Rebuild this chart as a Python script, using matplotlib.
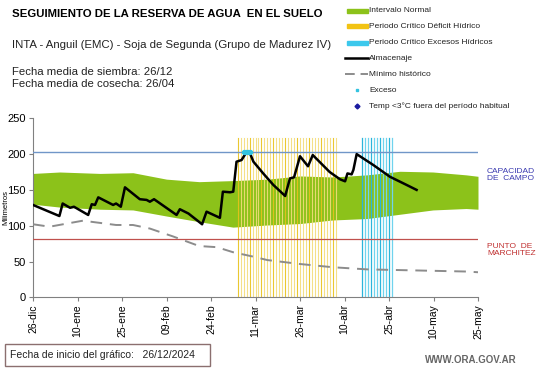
import matplotlib
matplotlib.use("Agg")
import matplotlib.pyplot as plt
from matplotlib.patches import Rectangle
from matplotlib.lines import Line2D

plt.rcParams['font.family'] = ['Liberation Sans', 'DejaVu Sans']

# ---- data (day index from 26-dic) ----
tick_days = [0, 15, 30, 45, 60, 75, 90, 105, 120, 135, 150]
tick_labels = ["26-dic", "10-ene", "25-ene", "09-feb", "24-feb", "11-mar",
               "26-mar", "10-abr", "25-abr", "10-may", "25-may"]

band_days = [0, 9, 22.6, 33.7, 45, 56, 67.4, 79, 90, 101, 112.6, 123.7, 134.8, 146, 150]
band_top = [173, 175, 173, 174, 165, 161.5, 163, 165, 169.5, 168, 171, 176, 175, 171, 169]
band_bottom = [130, 126, 123, 122, 113.5, 105.6, 98, 101, 103, 108, 110, 116, 122, 124, 123]

min_days = [0, 5.6, 16.8, 28, 33.7, 39.4, 47.2, 56, 62, 67.4, 74, 79, 90, 101, 112.6, 123.7, 134.8, 146, 150]
min_vals = [102, 98.6, 107, 101, 101, 96, 85, 71.6, 70, 63, 57, 52, 46.5, 42, 39, 38, 37, 36, 35]

alm_days = [0, 8.9, 10, 12.5, 13.8, 18.6, 19.8, 20.9, 22, 27, 28, 29.6, 31, 36, 38.3,
            39.4, 40.8, 48.4, 49.5, 52.4, 57, 58.5, 63, 64, 66.4, 67.5, 68.6, 70.3,
            72, 73, 74.3, 77.6, 81, 85, 86.6, 88, 90, 92.7, 94.3, 100, 103.5, 105.2,
            106, 107.4, 108, 109.1, 114.7, 120.3, 126, 129.3]
alm_vals = [129, 113.5, 131, 125, 126.5, 115, 130, 129, 139.6, 129, 131, 126.5, 153.6,
            137, 136, 133.5, 137, 115, 123, 117, 102, 119.6, 111, 147.5, 146.7, 147.5,
            189.4, 191.7, 203, 202.5, 189.4, 173, 157, 141.5, 166, 167.6, 197, 183, 198.7,
            175, 164.8, 162, 173, 171.7, 178, 200, 184.8, 168.4, 156.8, 150]

exceso_days = [71, 71.7, 72.4, 73]
exceso_vals = [203, 203.5, 203.5, 203]

deficit_days = list(range(69, 103))
excesos_days = list(range(111, 122))
capacidad = 202.5
marchitez = 81
critico_top = 222

W, H = 541, 368
fig = plt.figure(figsize=(W / 100, H / 100), dpi=100)
ax = fig.add_axes([33 / W, 1 - 297.3 / H, (478 - 33) / W, (297.3 - 118.3) / H])

green = '#8CC21A'
ax.fill_between(band_days, band_bottom, band_top, color=green, lw=0, zorder=1)

for i, d in enumerate(deficit_days):
    c = '#E8C21A' if i % 4 == 0 else '#F3DC7A'
    ax.plot([d, d], [0, critico_top], color=c, lw=0.8, zorder=2, alpha=0.9)
for i, d in enumerate(excesos_days):
    c = '#2BB5DA' if i % 3 == 0 else '#6FD3EE'
    ax.plot([d, d], [0, critico_top], color=c, lw=0.9, zorder=2)

ax.axhline(capacidad, color='#7096C8', lw=1.0, zorder=3)
ax.axhline(marchitez, color='#C0504D', lw=0.9, zorder=3)
ax.plot(min_days, min_vals, color='#8C8C8C', lw=1.4, ls=(0, (6, 4)), zorder=3)
ax.plot(alm_days, alm_vals, color='black', lw=1.8, zorder=4)
ax.scatter(exceso_days, exceso_vals, color='#33C3E0', s=8, zorder=5)

ax.set_xlim(0, 150)
ax.set_ylim(0, 250)
ax.set_xticks(tick_days)
ax.set_xticklabels(tick_labels, rotation=90, fontsize=7.5)
ax.set_yticks([0, 50, 100, 150, 200, 250])
ax.tick_params(axis='y', labelsize=8, length=3, color='#808080', pad=2)
ax.tick_params(axis='x', length=3, color='#808080', pad=2)
for s in ['top', 'right']:
    ax.spines[s].set_visible(False)
for s in ['left', 'bottom']:
    ax.spines[s].set_color('#808080')
ax.set_ylabel('Milimetros', fontsize=5.5)
ax.yaxis.set_label_coords(-0.052, 0.5)

# ---- texts ----
fig.text(12 / W, 1 - 14 / H, 'SEGUIMIENTO DE LA RESERVA DE AGUA  EN EL SUELO',
         fontsize=8.2, fontweight='bold', va='center')
fig.text(12 / W, 1 - 45 / H, 'INTA - Anguil (EMC) - Soja de Segunda (Grupo de Madurez IV)',
         fontsize=8.2, va='center', color='#222222')
fig.text(12 / W, 1 - 72 / H, 'Fecha media de siembra: 26/12', fontsize=8.2, va='center', color='#222222')
fig.text(12 / W, 1 - 84 / H, 'Fecha media de cosecha: 26/04', fontsize=8.2, va='center', color='#222222')

# legend
leg_y = [11, 26, 43, 58, 74, 90, 106]
leg_txt = ['Intervalo Normal', 'Periodo Crítico Déficit Hídrico', 'Periodo Crítico Excesos Hídricos',
           'Almacenaje', 'Mínimo histórico', 'Exceso', 'Temp <3°C fuera del período habitual']
x0, x1, xt = 347 / W, 368 / W, 369 / W
for y, t in zip(leg_y, leg_txt):
    fig.text(xt, 1 - y / H, t, fontsize=6, va='center', color='#222222')


def fy(y):
    return 1 - y / H


fig.add_artist(Rectangle((x0, fy(leg_y[0]) - 2 / H), x1 - x0, 4 / H, color=green, transform=fig.transFigure))
fig.add_artist(Rectangle((x0, fy(leg_y[1]) - 2 / H), x1 - x0, 4 / H, color='#F2C313', transform=fig.transFigure))
fig.add_artist(Rectangle((x0, fy(leg_y[2]) - 2 / H), x1 - x0, 4 / H, color='#3CC8EC', transform=fig.transFigure))
fig.add_artist(Line2D([x0 - 2 / W, x1], [fy(leg_y[3])] * 2, color='black', lw=1.8, transform=fig.transFigure))
fig.add_artist(Line2D([x0 - 2 / W, x1], [fy(leg_y[4])] * 2, color='#8C8C8C', lw=1.4, ls=(0, (5, 3)),
                      transform=fig.transFigure))
fig.add_artist(Line2D([357 / W], [fy(leg_y[5])], marker='s', ms=2, color='#33C3E0', lw=0,
                      transform=fig.transFigure))
fig.add_artist(Line2D([357 / W], [fy(leg_y[6])], marker='D', ms=2.5, color='#1A1AA0', lw=0,
                      transform=fig.transFigure))

fig.text(487 / W, 1 - 175 / H, 'CAPACIDAD\nDE  CAMPO', fontsize=6, color='#3A3AB0', va='center',
         linespacing=1.1)
fig.text(487 / W, 1 - 250 / H, 'PUNTO  DE\nMARCHITEZ', fontsize=6, color='#C03030', va='center',
         linespacing=1.1)

fig.add_artist(Rectangle((5 / W, 1 - 366 / H), 205 / W, 22 / H, fill=False, edgecolor='#8B6F6F',
                         lw=1, transform=fig.transFigure))
fig.text(10 / W, 1 - 355 / H, 'Fecha de inicio del gráfico:   26/12/2024', fontsize=7.5, va='center',
         color='#222222')
fig.text(425 / W, 1 - 360 / H, 'WWW.ORA.GOV.AR', fontsize=7, va='center', color='#666666',
         fontweight='bold')

fig.savefig('out.png', dpi=100)
